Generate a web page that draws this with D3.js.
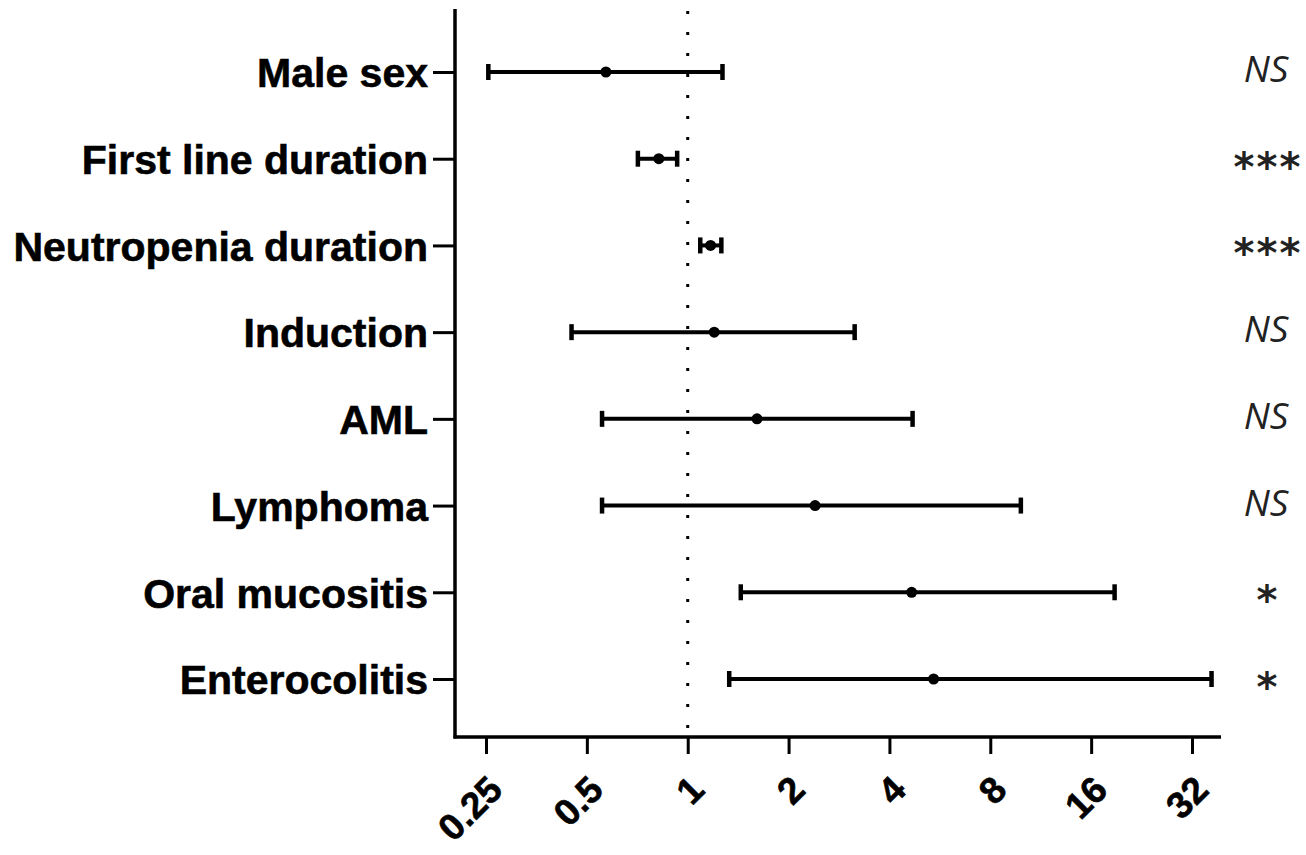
<!DOCTYPE html>
<html>
<head>
<meta charset="utf-8">
<script src="https://cdn.jsdelivr.net/npm/d3@7"></script>
<style>
  body { margin: 0; background: #fff; }
  svg { display: block; }
</style>
</head>
<body>
<div id="chart"></div>
<script>
const categories = ["Male sex", "First line duration", "Neutropenia duration", "Induction",
                    "AML", "Lymphoma", "Oral mucositis", "Enterocolitis"];
const oddsRatio = [0.57, 0.82, 1.17, 1.20, 1.61, 2.40, 4.66, 5.42];
const ciLower   = [0.254, 0.71, 1.09, 0.45, 0.555, 0.555, 1.44, 1.33];
const ciUpper   = [1.27, 0.93, 1.26, 3.15, 4.69, 9.87, 18.8, 36.6];
const significance = ["NS", "***", "***", "NS", "NS", "NS", "*", "*"];
const tickValues = [0.25, 0.5, 1, 2, 4, 8, 16, 32];
const tickLabels = ["0.25", "0.5", "1", "2", "4", "8", "16", "32"];

const width = 1306, height = 855;
const axisLeftX = 455, axisRightX = 1221, axisTop = 9, axisBottom = 737;

const svg = d3.select("#chart").append("svg")
  .attr("width", width)
  .attr("height", height);

const x = d3.scaleLog().base(2).domain([0.25, 32]).range([486, 1192]);
const y = d3.scalePoint().domain(categories).range([72, 679]);

const rows = categories.map((c, i) => ({
  name: c, or: oddsRatio[i], lo: ciLower[i], hi: ciUpper[i], sig: significance[i]
}));

// reference line at OR = 1
svg.append("line")
  .attr("x1", x(1)).attr("x2", x(1))
  .attr("y1", 11).attr("y2", axisBottom)
  .attr("stroke", "#000")
  .attr("stroke-width", 3)
  .attr("stroke-dasharray", "3,18");

// x axis
const xAxis = svg.append("g")
  .attr("transform", `translate(0,${axisBottom})`)
  .call(d3.axisBottom(x).tickValues(tickValues).tickFormat((d, i) => tickLabels[i])
    .tickSize(17).tickSizeOuter(0));
xAxis.select(".domain").remove();
xAxis.selectAll(".tick line").attr("stroke", "#000").attr("stroke-width", 3);
xAxis.selectAll(".tick text")
  .attr("font-family", "'Liberation Sans', Arial, sans-serif")
  .attr("font-weight", "bold")
  .attr("font-size", "37px")
  .attr("fill", "#000")
  .attr("stroke", "#000")
  .attr("stroke-width", 0.6)
  .attr("text-anchor", "end")
  .attr("dy", null)
  .attr("y", null)
  .attr("transform", "translate(18,55) rotate(-45)");
svg.append("line")
  .attr("x1", axisLeftX - 1.5).attr("x2", axisRightX)
  .attr("y1", axisBottom).attr("y2", axisBottom)
  .attr("stroke", "#000").attr("stroke-width", 3.5);

// y axis
const yAxis = svg.append("g")
  .attr("transform", `translate(${axisLeftX},0)`)
  .call(d3.axisLeft(y).tickSize(22).tickPadding(5).tickSizeOuter(0));
yAxis.select(".domain").remove();
yAxis.selectAll(".tick line").attr("stroke", "#000").attr("stroke-width", 3);
yAxis.selectAll(".tick text")
  .attr("font-family", "'Liberation Sans', Arial, sans-serif")
  .attr("font-weight", "bold")
  .attr("font-size", "41px")
  .attr("fill", "#000")
  .attr("stroke", "#000")
  .attr("stroke-width", 0.6)
  .attr("dy", "0.36em");
svg.append("line")
  .attr("x1", axisLeftX).attr("x2", axisLeftX)
  .attr("y1", axisTop).attr("y2", axisBottom + 1.5)
  .attr("stroke", "#000").attr("stroke-width", 3.5);

// error bars
const bars = svg.append("g").selectAll("g")
  .data(rows)
  .enter()
  .append("g")
  .attr("transform", d => `translate(0,${y(d.name)})`);

bars.append("line")
  .attr("x1", d => x(d.lo)).attr("x2", d => x(d.hi))
  .attr("y1", 0).attr("y2", 0)
  .attr("stroke", "#000").attr("stroke-width", 4);

bars.append("line")
  .attr("x1", d => x(d.lo)).attr("x2", d => x(d.lo))
  .attr("y1", -8).attr("y2", 8)
  .attr("stroke", "#000").attr("stroke-width", 4.5);

bars.append("line")
  .attr("x1", d => x(d.hi)).attr("x2", d => x(d.hi))
  .attr("y1", -8).attr("y2", 8)
  .attr("stroke", "#000").attr("stroke-width", 4.5);

bars.append("circle")
  .attr("cx", d => x(d.or))
  .attr("cy", 0)
  .attr("r", 5.5)
  .attr("fill", "#000");

// significance labels
bars.filter(d => d.sig === "NS").append("text")
  .attr("x", 1266)
  .attr("y", 10)
  .attr("text-anchor", "middle")
  .attr("font-family", "'Open Sans', sans-serif")
  .attr("font-style", "italic")
  .attr("font-size", "37px")
  .attr("fill", "#222")
  .text(d => d.sig);

bars.filter(d => d.sig !== "NS").append("text")
  .attr("x", 1268)
  .attr("y", 22)
  .attr("text-anchor", "middle")
  .attr("font-family", "'DejaVu Sans', sans-serif")
  .attr("font-weight", "bold")
  .attr("font-size", "40px")
  .attr("letter-spacing", "2px")
  .attr("fill", "#222")
  .text(d => d.sig);
</script>
</body>
</html>
